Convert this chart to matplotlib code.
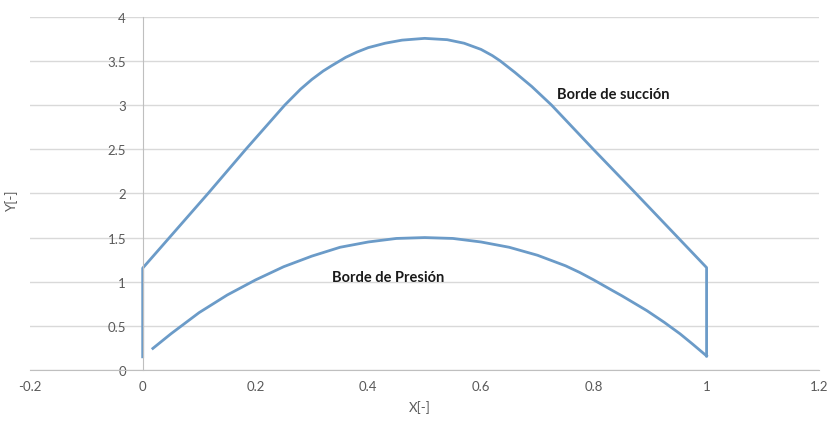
import matplotlib
matplotlib.use("Agg")
import matplotlib.pyplot as plt

# Leading edge (vertical) + suction side + trailing edge (vertical)
x_suction = [0.0, 0.0, 0.116, 0.183, 0.252, 0.28, 0.30, 0.32, 0.335, 0.36, 0.38, 0.40, 0.43,
             0.46, 0.50, 0.54, 0.57, 0.60, 0.62, 0.634, 0.66, 0.69, 0.725, 0.799, 0.87, 1.0, 1.0]
y_suction = [0.15, 1.154, 2.00, 2.50, 3.00, 3.18, 3.29, 3.385, 3.445, 3.54, 3.60, 3.65, 3.70,
             3.735, 3.755, 3.74, 3.70, 3.63, 3.56, 3.50, 3.37, 3.21, 3.00, 2.50, 2.03, 1.16, 0.16]

# Pressure side (from trailing edge back toward leading edge)
x_pressure = [1.0, 0.975, 0.953, 0.925, 0.894, 0.85, 0.834, 0.80, 0.775, 0.75, 0.70, 0.65, 0.60,
              0.55, 0.50, 0.45, 0.40, 0.35, 0.30, 0.25, 0.20, 0.15, 0.10, 0.05, 0.018]
y_pressure = [0.16, 0.295, 0.41, 0.54, 0.673, 0.84, 0.897, 1.02, 1.105, 1.18, 1.30, 1.39, 1.45,
              1.49, 1.50, 1.49, 1.45, 1.39, 1.29, 1.17, 1.02, 0.85, 0.65, 0.41, 0.245]

x_ticks = [-0.2, 0, 0.2, 0.4, 0.6, 0.8, 1, 1.2]
x_ticklabels = ["-0.2", "0", "0.2", "0.4", "0.6", "0.8", "1", "1.2"]
y_ticks = [0, 0.5, 1, 1.5, 2, 2.5, 3, 3.5, 4]
y_ticklabels = ["0", "0.5", "1", "1.5", "2", "2.5", "3", "3.5", "4"]

plt.rcParams['font.family'] = ['Lato', 'DejaVu Sans']

fig = plt.figure(figsize=(8.31, 4.27), dpi=100)
ax = fig.add_axes([0.036, 0.131, 0.95, 0.8275])

line_color = "#6b9bc8"
ax.plot(x_suction, y_suction, color=line_color, lw=2.0, solid_joinstyle='round')
ax.plot(x_pressure, y_pressure, color=line_color, lw=2.0, solid_joinstyle='round')

ax.set_xlim(-0.2, 1.2)
ax.set_ylim(0, 4)
ax.set_xticks(x_ticks)
ax.set_xticklabels(x_ticklabels)
ax.set_yticks(y_ticks)
ax.set_yticklabels(y_ticklabels)

ax.grid(axis='y', color='#d9d9d9', lw=1.0)
ax.set_axisbelow(True)

for s in ['top', 'right']:
    ax.spines[s].set_visible(False)
ax.spines['left'].set_position(('data', 0))
ax.spines['left'].set_color('#bfbfbf')
ax.spines['bottom'].set_color('#bfbfbf')

ax.tick_params(axis='x', length=0, pad=7, labelsize=9.5, labelcolor='#595959')
ax.tick_params(axis='y', length=0, pad=12, labelsize=9.5, labelcolor='#595959')

fig.text(0.505, 0.045, "X[-]", ha='center', va='center', fontsize=9.5, color='#595959')
fig.text(0.014, 0.53, "Y[-]", ha='center', va='center', fontsize=9.5, color='#595959', rotation=90)

ax.text(0.735, 3.12, "Borde de succión", fontsize=10.5, fontweight='bold', color='#1a1a1a', va='center', ha='left')
ax.text(0.336, 1.05, "Borde de Presión", fontsize=10.5, fontweight='bold', color='#1a1a1a', va='center', ha='left')

fig.savefig("out.png", dpi=100, facecolor='white')
